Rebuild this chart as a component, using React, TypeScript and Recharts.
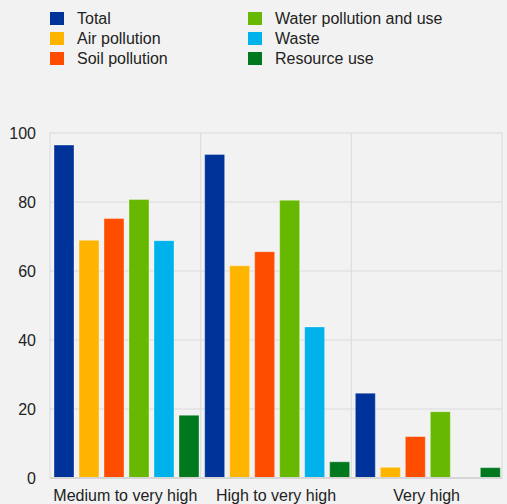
import { Bar, BarChart, CartesianGrid, XAxis, YAxis } from "recharts";

const categories = ["Medium to very high", "High to very high", "Very high"];

const total = [96.5, 93.8, 24.6];
const airPollution = [68.9, 61.5, 3.1];
const soilPollution = [75.2, 65.6, 12.0];
const waterPollution = [80.7, 80.5, 19.2];
const waste = [68.8, 43.8, null];
const resourceUse = [18.2, 4.7, 3.0];

const yTicks = [0, 20, 40, 60, 80, 100];

const series = [
  { key: "total", name: "Total", values: total, color: "#003399" },
  { key: "air", name: "Air pollution", values: airPollution, color: "#FFB400" },
  { key: "soil", name: "Soil pollution", values: soilPollution, color: "#FF4D00" },
  { key: "water", name: "Water pollution and use", values: waterPollution, color: "#66B800" },
  { key: "waste", name: "Waste", values: waste, color: "#00B2EB" },
  { key: "resource", name: "Resource use", values: resourceUse, color: "#00791E" },
];

const data = categories.map((c, i) => {
  const row: Record<string, string | number | null> = { category: c };
  series.forEach((s) => {
    row[s.key] = s.values[i];
  });
  return row;
});

const FONT = '"Liberation Sans", Arial, sans-serif';

function Legend() {
  // two columns, three rows (column-major order)
  return (
    <div style={{ position: "absolute", left: 0, top: 0, width: 507, height: 80 }}>
      {series.map((s, i) => {
        const col = Math.floor(i / 3);
        const row = i % 3;
        const left = col === 0 ? 50 : 248;
        const top = 12 + row * 20;
        return (
          <div key={s.key}>
            <div
              style={{
                position: "absolute",
                left,
                top,
                width: 14,
                height: 13,
                background: s.color,
              }}
            />
            <div
              style={{
                position: "absolute",
                left: left + 27,
                top: top - 3,
                fontSize: 16,
                lineHeight: "19px",
                color: "#222",
                whiteSpace: "nowrap",
              }}
            >
              {s.name}
            </div>
          </div>
        );
      })}
    </div>
  );
}

export default function App() {
  return (
    <div
      style={{
        position: "fixed",
        left: 0,
        top: 0,
        width: 507,
        height: 504,
        background: "#f2f2f2",
        fontFamily: FONT,
        overflow: "hidden",
      }}
    >
      <Legend />
      <BarChart
        width={507}
        height={504}
        data={data}
        margin={{ top: 133, right: 5, bottom: 0, left: 0 }}
        barCategoryGap={4}
        barGap={5}
      >
        <CartesianGrid
          stroke="#dadada"
          verticalCoordinatesGenerator={({ offset }: any) => {
            const w = offset.width / categories.length;
            return categories.map((_, i) => offset.left + w * i).concat(offset.left + offset.width);
          }}
        />
        <XAxis
          dataKey="category"
          height={26}
          axisLine={{ stroke: "#d6d6d6", strokeWidth: 2 }}
          tickLine={false}
          tickSize={0}
          tickMargin={12}
          tick={{ fontSize: 16, fill: "#222", fontFamily: FONT }}
          interval={0}
        />
        <YAxis
          width={50}
          domain={[0, 100]}
          ticks={yTicks}
          axisLine={false}
          tickLine={false}
          tickSize={0}
          tickMargin={14}
          tick={{ fontSize: 16, fill: "#222", fontFamily: FONT }}
        />
        {series.map((s) => (
          <Bar
            key={s.key}
            dataKey={s.key}
            name={s.name}
            fill={s.color}
            stroke="#ffffff"
            strokeOpacity={0.35}
            strokeWidth={1}
            isAnimationActive={false}
          />
        ))}
      </BarChart>
    </div>
  );
}
